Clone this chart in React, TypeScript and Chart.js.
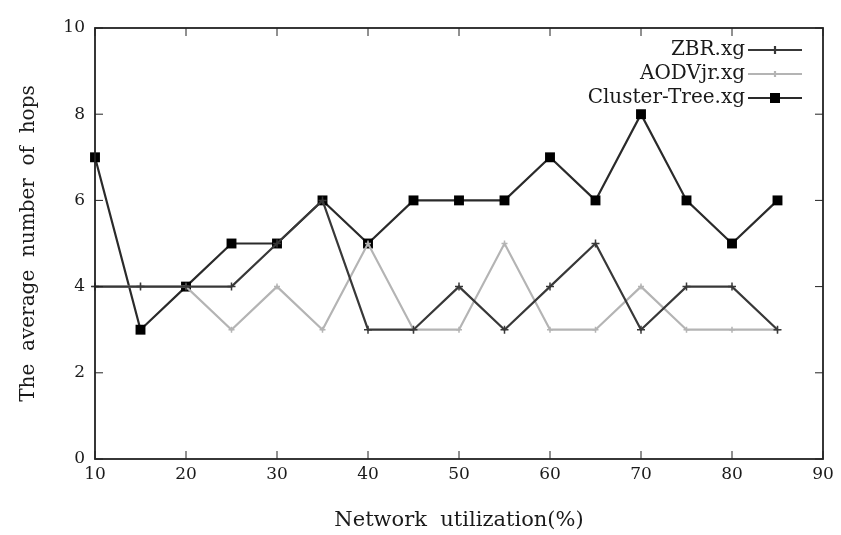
import React, { useEffect, useRef } from "react";
import { Chart, registerables } from "chart.js";
Chart.register(...registerables);

const utilization = [10, 15, 20, 25, 30, 35, 40, 45, 50, 55, 60, 65, 70, 75, 80, 85];
const zbr = [4, 4, 4, 4, 5, 6, 3, 3, 4, 3, 4, 5, 3, 4, 4, 3];
const aodvjr = [4, 4, 4, 3, 4, 3, 5, 3, 3, 5, 3, 3, 4, 3, 3, 3];
const clusterTree = [7, 3, 4, 5, 5, 6, 5, 6, 6, 6, 7, 6, 8, 6, 5, 6];
const xTicks = [10, 20, 30, 40, 50, 60, 70, 80, 90];
const yTicks = [0, 2, 4, 6, 8, 10];
const seriesNames = ["ZBR.xg", "AODVjr.xg", "Cluster-Tree.xg"];

const FONT = "'DejaVu Serif', 'Liberation Serif', serif";

const framePlugin = {
  id: "gnuFrame",
  afterDraw(chart: any) {
    const { ctx, chartArea, scales } = chart;
    const { left, right, top, bottom } = chartArea;
    const x = scales.x;
    const y = scales.y;
    ctx.save();
    ctx.strokeStyle = "#222";
    ctx.lineWidth = 1.8;
    ctx.strokeRect(left, top, right - left, bottom - top);
    ctx.lineWidth = 1;
    const len = 8;
    ctx.beginPath();
    for (const v of xTicks) {
      const px = x.getPixelForValue(v);
      ctx.moveTo(px, bottom);
      ctx.lineTo(px, bottom - len);
      ctx.moveTo(px, top);
      ctx.lineTo(px, top + len);
    }
    for (const v of yTicks) {
      const py = y.getPixelForValue(v);
      ctx.moveTo(left, py);
      ctx.lineTo(left + len, py);
      ctx.moveTo(right, py);
      ctx.lineTo(right - len, py);
    }
    ctx.stroke();

    // legend (gnuplot style: text right-aligned, sample to the right)
    const textRight = right - 78;
    const sampleL = right - 75;
    const sampleR = right - 21;
    const startY = top + 22;
    const step = 24;
    ctx.font = `20px ${FONT}`;
    ctx.textAlign = "right";
    ctx.textBaseline = "middle";
    chart.data.datasets.forEach((ds: any, i: number) => {
      const ly = startY + i * step;
      ctx.fillStyle = "#1a1a1a";
      ctx.fillText(seriesNames[i], textRight, ly);
      ctx.strokeStyle = ds.borderColor;
      ctx.lineWidth = ds.borderWidth;
      ctx.beginPath();
      ctx.moveTo(sampleL, ly);
      ctx.lineTo(sampleR, ly);
      ctx.stroke();
      const cx = (sampleL + sampleR) / 2;
      if (ds.pointStyle === "rect") {
        ctx.fillStyle = "#000";
        ctx.fillRect(cx - 5, ly - 5, 10, 10);
      } else {
        ctx.beginPath();
        ctx.moveTo(cx, ly - ds.pointRadius);
        ctx.lineTo(cx, ly + ds.pointRadius);
        ctx.stroke();
      }
    });
    ctx.restore();
  },
};

export default function App() {
  const ref = useRef<HTMLCanvasElement>(null);
  useEffect(() => {
    const mk = (vals: number[]) => utilization.map((u, i) => ({ x: u, y: vals[i] }));
    const chart = new Chart(ref.current!, {
      type: "line",
      data: {
        datasets: [
          {
            label: seriesNames[0],
            data: mk(zbr),
            borderColor: "#383838",
            borderWidth: 2.2,
            pointStyle: "cross",
            pointRadius: 4,
            pointBorderColor: "#383838",
            pointBorderWidth: 1.5,
            tension: 0,
            clip: false,
          },
          {
            label: seriesNames[1],
            data: mk(aodvjr),
            borderColor: "#b4b4b4",
            borderWidth: 2.2,
            pointStyle: "cross",
            pointRadius: 3,
            pointBorderColor: "#b4b4b4",
            pointBorderWidth: 1.5,
            tension: 0,
            clip: false,
          },
          {
            label: seriesNames[2],
            data: mk(clusterTree),
            borderColor: "#2a2a2a",
            borderWidth: 2.2,
            pointStyle: "rect",
            pointRadius: 7,
            pointBackgroundColor: "#000",
            pointBorderColor: "#000",
            pointBorderWidth: 0,
            tension: 0,
            clip: false,
          },
        ] as any,
      },
      options: {
        animation: false,
        responsive: false,
        layout: { padding: { left: 0, right: 18, top: 28, bottom: 0 } },
        plugins: { legend: { display: false }, tooltip: { enabled: false } },
        scales: {
          x: {
            type: "linear",
            min: 10,
            max: 90,
            afterBuildTicks: (s: any) => {
              s.ticks = xTicks.map((v) => ({ value: v }));
            },
            afterFit: (s: any) => {
              s.height = 76;
            },
            grid: { display: false, drawTicks: false },
            border: { display: false },
            ticks: { padding: 5, color: "#1a1a1a", font: { family: FONT, size: 17 }, maxRotation: 0 },
            title: {
              display: true,
              text: "Network  utilization(%)",
              color: "#1a1a1a",
              font: { family: FONT, size: 21 },
              padding: { top: 0, bottom: 2 },
            },
          },
          y: {
            type: "linear",
            min: 0,
            max: 10,
            afterBuildTicks: (s: any) => {
              s.ticks = yTicks.map((v) => ({ value: v }));
            },
            afterFit: (s: any) => {
              s.width = 95;
            },
            grid: { display: false, drawTicks: false },
            border: { display: false },
            ticks: { padding: 10, color: "#1a1a1a", font: { family: FONT, size: 17 } },
            title: {
              display: true,
              text: "The  average  number  of  hops",
              color: "#1a1a1a",
              font: { family: FONT, size: 20 },
              padding: { top: 17, bottom: 0 },
            },
          },
        },
      } as any,
      plugins: [framePlugin],
    });
    return () => chart.destroy();
  }, []);
  return (
    <div style={{ position: "absolute", left: 0, top: 0, width: 841, height: 535, background: "#fff" }}>
      <canvas ref={ref} width={841} height={535} />
    </div>
  );
}
